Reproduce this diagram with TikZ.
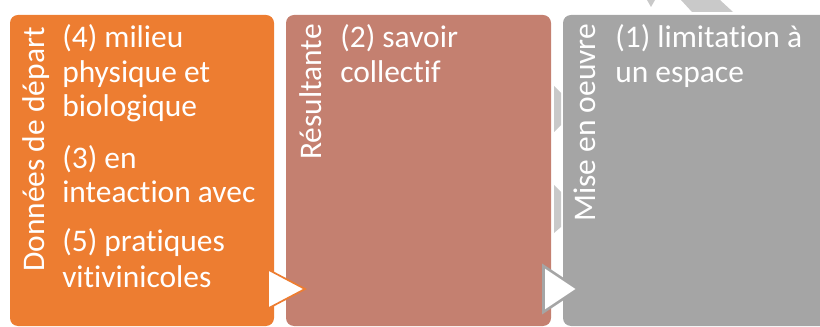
\documentclass[tikz,border=0pt]{standalone}
\usepackage{fontspec}
\setmainfont{Carlito}[Ligatures=NoCommon]
\definecolor{orng}{HTML}{ED7D31}
\definecolor{brwn}{HTML}{C48070}
\definecolor{gry}{HTML}{A5A5A5}
\definecolor{lgry}{HTML}{C9C9C9}
\begin{document}
\begin{tikzpicture}[x=0.75pt,y=-0.75pt,
  panel/.style={rounded corners=6pt},
  txt/.style={text=white, inner sep=0pt, anchor=base west, font=\fontsize{23.6}{25.9}\selectfont},
  vtxt/.style={txt, rotate=90},
  arrowtri/.style={fill=white, line join=miter}]
\useasboundingbox (0,0) rectangle (820,327);
\clip (0,0) rectangle (820,327);
% faint background pieces
\fill[lgry] (647,0) -- (655,0) -- (651,7) -- cycle;
\fill[lgry] (681,0) -- (720,0) -- (733,12) -- (692,12) -- cycle;
\fill[lgry] (554,86) -- (561,93) -- (561,125) -- (554,132) -- cycle;
\fill[lgry] (554,185) -- (561,192) -- (561,227) -- (554,233) -- cycle;
% panels
\fill[orng, panel] (10,15) rectangle (274,326);
\fill[brwn, panel] (286,15) rectangle (551,326);
\fill[gry, panel] (563,15) rectangle (828,326);
% arrow triangles
\draw[arrowtri, draw=orng, line width=1.3pt] (268,269.5) -- (305,289) -- (268,308.5) -- cycle;
\draw[arrowtri, draw=gry, line width=1.9pt] (543.5,266) -- (578,289) -- (543.5,312) -- cycle;
% panel 1
\node[vtxt] (t1) at (44,272) {Données de départ};
\node[txt] (a1) at (62,48) {(4) milieu};
\node[txt] (a2) at (62,82.5) {physique et};
\node[txt] (a3) at (62,117) {biologique};
\node[txt] (a4) at (62,169) {(3) en};
\node[txt] (a5) at (62,203) {inteaction avec};
\node[txt] (a6) at (62,252) {(5) pratiques};
\node[txt] (a7) at (62,287) {vitivinicoles};
% panel 2
\node[vtxt] (t2) at (321,160) {Résultante};
\node[txt] (b1) at (340,48) {(2) savoir};
\node[txt] (b2) at (340,82.5) {collectif};
% panel 3
\node[vtxt] (t3) at (595,222) {Mise en oeuvre};
\node[txt] (c1) at (615,48) {(1) limitation à};
\node[txt] (c2) at (615,83) {un espace};
\end{tikzpicture}
\end{document}
